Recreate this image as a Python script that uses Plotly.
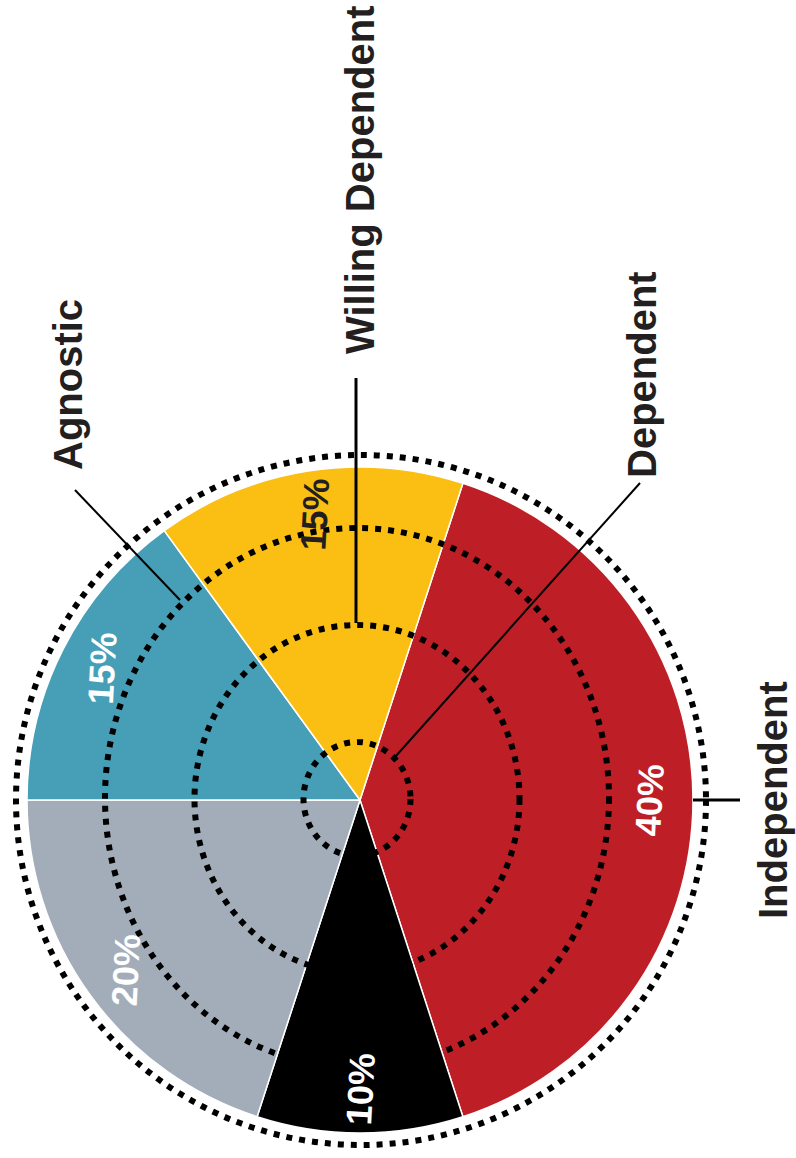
import plotly.graph_objects as go
import math

# ---- data ----
slice_names = ["Independent", "Unknown", "Other", "Agnostic", "Willing Dependent"]
values = [40, 10, 20, 15, 15]
pct_labels = ["40%", "10%", "20%", "15%", "15%"]
colors = ["#BE1F26", "#000000", "#A3ADB9", "#469FB7", "#FBBF14"]
pct_colors = ["#FFFFFF", "#FFFFFF", "#FFFFFF", "#FFFFFF", "#231F20"]
category_labels = ["Willing Dependent", "Agnostic", "Dependent", "Independent"]
start_angle = 18  # degrees clockwise from 12 o'clock

W, H = 796, 1158
cx, cy, R = 360, 800, 333

fig = go.Figure()
fig.add_trace(go.Pie(
    values=values, labels=slice_names, sort=False, direction="clockwise",
    rotation=start_angle, marker=dict(colors=colors, line=dict(color="white", width=1.5)),
    textinfo="none", hoverinfo="skip", showlegend=False,
    domain=dict(x=[(cx - R) / W, (cx + R) / W], y=[1 - (cy + R) / H, 1 - (cy - R) / H]),
))

shapes = []
# dotted rings
dot = dict(color="black", width=6, dash="6px,7px")
rings = [(361, 800, 345, 345), (357, 798, 252, 270), (357, 799, 162.5, 174), (357, 799, 53.5, 57)]
for (ex, ey, a, b) in rings:
    shapes.append(dict(type="circle", xref="x", yref="y", x0=ex - a, x1=ex + a, y0=ey - b, y1=ey + b,
                       line=dot, layer="above"))
# leader lines
leaders = [((75, 490), (180, 600), 2), ((356, 378), (356, 623), 3), ((640, 483), (395, 757), 2),
           ((693, 800), (740, 800), 3)]
for (p0, p1, w) in leaders:
    shapes.append(dict(type="line", xref="x", yref="y", x0=p0[0], y0=p0[1], x1=p1[0], y1=p1[1],
                       line=dict(color="black", width=w), layer="above"))

annotations = []
font_family = "Arial, Liberation Sans, sans-serif"
# percentage labels along slice mid-angles
cum = 0
r_lab = 289
for v, t, c in zip(values, pct_labels, pct_colors):
    mid = math.radians(start_angle + (cum + v / 2) / sum(values) * 360)
    cum += v
    annotations.append(dict(x=cx + r_lab * math.sin(mid), y=cy - r_lab * math.cos(mid), xref="x", yref="y",
                            text=t, showarrow=False, textangle=-87,
                            font=dict(family=font_family, size=36, color=c, weight=700),
                            xanchor="center", yanchor="middle"))
# category labels
label_pos = [(360, 180), (68, 385), (642, 375), (773, 800)]
for t, (x, y) in zip(category_labels, label_pos):
    annotations.append(dict(x=x, y=y, xref="x", yref="y", text=t, showarrow=False, textangle=-90,
                            font=dict(family=font_family, size=40, color="#231F20", weight=700),
                            xanchor="center", yanchor="middle", borderpad=0))

fig.update_layout(
    width=W, height=H, margin=dict(l=0, r=0, t=0, b=0),
    paper_bgcolor="white", plot_bgcolor="rgba(0,0,0,0)",
    xaxis=dict(range=[0, W], visible=False, fixedrange=True),
    yaxis=dict(range=[H, 0], visible=False, fixedrange=True),
    shapes=shapes, annotations=annotations, showlegend=False,
)
fig.write_html("out.html")
